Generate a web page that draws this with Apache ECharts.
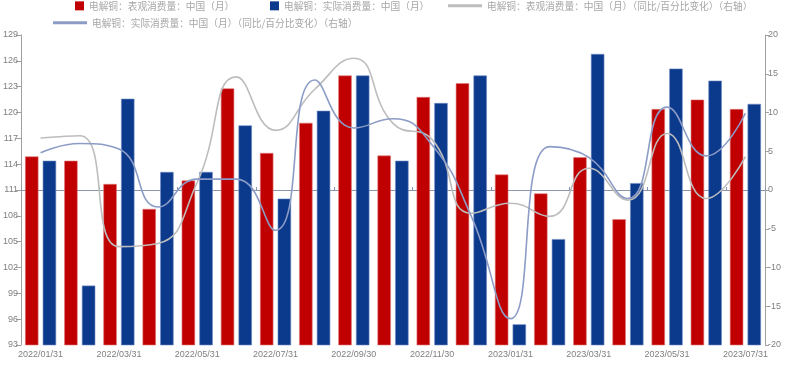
<!DOCTYPE html>
<html>
<head>
<meta charset="utf-8">
<script src="https://cdn.jsdelivr.net/npm/echarts@6/dist/echarts.min.js"></script>
<style>
  html, body { margin: 0; padding: 0; background: #fff; }
  #CopperUse { width: 796px; height: 365px; }
</style>
</head>
<body>
<div id="CopperUse"></div>
<script>
// 电解铜 月度消费量
const months = ['2022/01/31', '2022/02/28', '2022/03/31', '2022/04/30', '2022/05/31', '2022/06/30', '2022/07/31',
  '2022/08/31', '2022/09/30', '2022/10/31', '2022/11/30', '2022/12/31', '2023/01/31', '2023/02/28',
  '2023/03/31', '2023/04/30', '2023/05/31', '2023/06/30', '2023/07/31'];
const apparentUse = [114.9, 114.4, 111.7, 108.8, 112.1, 122.8, 115.3, 118.8, 124.3, 115.0, 121.8, 123.4, 112.8, 110.6, 114.8, 107.6, 120.4, 121.5, 120.4];
const actualUse = [114.4, 99.9, 121.6, 113.1, 113.1, 118.5, 110.0, 120.2, 124.3, 114.4, 121.1, 124.3, 95.4, 105.3, 126.8, 111.8, 125.1, 123.7, 121.0];
const apparentYoy = [6.7, 7.0, -7.3, -6.9, 1.0, 14.6, 7.7, 13.0, 17.0, 8.6, 6.5, -3.0, -1.7, -3.4, 2.8, -1.3, 7.3, -1.1, 4.3];
const actualYoy = [4.8, 6.0, 5.3, -2.2, 1.4, 1.4, -5.2, 14.2, 8.0, 9.2, 5.8, -3.4, -16.6, 5.6, 4.2, -1.1, 10.7, 4.4, 9.9];

const names = [
  '电解铜：表观消费量：中国（月）',
  '电解铜：实际消费量：中国（月）',
  '电解铜：表观消费量：中国（月）（同比/百分比变化）（右轴）',
  '电解铜：实际消费量：中国（月）（同比/百分比变化）（右轴）'
];

const RED = '#c00000';
const BLUE = '#0b3a8c';
const GREY = '#bdbdbd';
const SLATE = '#8c9cc6';

const legendText = { color: '#a6a6a6', fontSize: 9.7, fontFamily: 'Noto Sans CJK SC' };
function legendOf(name, left, top, w, h) {
  return {
    data: [{ name: name, icon: 'rect' }], left: left, top: top, itemWidth: w, itemHeight: h, itemGap: 0,
    itemStyle: { borderWidth: 0 }, textStyle: legendText, selectedMode: false
  };
}

const myChart = echarts.init(document.getElementById('CopperUse'));
const axisLabel = { color: '#808080', fontSize: 9, fontFamily: 'Liberation Sans' };

let option = {
  animation: false,
  backgroundColor: '#fff',
  legend: [
    legendOf(names[0], 70, -4, 9, 9),
    legendOf(names[1], 265, -4, 9, 9),
    legendOf(names[2], 443, -4, 34, 3),
    legendOf(names[3], 48, 13, 34, 3)
  ],
  grid: { left: 20, right: 31, top: 35, bottom: 20 },
  xAxis: [
    {
      type: 'category', data: months, position: 'bottom',
      axisLine: { show: false }, axisTick: { show: false },
      axisLabel: Object.assign({ interval: 1, margin: 5 }, axisLabel)
    },
    {
      type: 'category', data: months,
      axisLine: { onZero: true, onZeroAxisIndex: 1, lineStyle: { color: '#8a94aa', width: 1 } },
      axisTick: { show: true, interval: 1, length: 3, inside: false, lineStyle: { color: '#8a94aa' } },
      axisLabel: { show: false }
    }
  ],
  yAxis: [
    {
      type: 'value', min: 93, max: 129, interval: 3,
      splitLine: { show: false },
      axisLine: { show: true, lineStyle: { color: '#a0a0a0' } },
      axisTick: { show: true, length: 5, lineStyle: { color: '#a0a0a0' } },
      axisLabel: Object.assign({ margin: 3 }, axisLabel)
    },
    {
      type: 'value', min: -20, max: 20, interval: 5, position: 'right',
      splitLine: { show: false },
      axisLine: { show: true, lineStyle: { color: '#a0a0a0' } },
      axisTick: { show: true, length: 4, lineStyle: { color: '#a0a0a0' } },
      axisLabel: Object.assign({ margin: 3 }, axisLabel)
    }
  ],
  series: [
    {
      name: names[0], type: 'bar', data: apparentUse, barWidth: 13.4, barGap: '32%',
      itemStyle: { color: RED, borderColor: '#e07a7a', borderWidth: 0.6 }
    },
    {
      name: names[1], type: 'bar', data: actualUse, barWidth: 13.4, barGap: '32%',
      itemStyle: { color: BLUE, borderColor: '#6f8cc4', borderWidth: 0.6 }
    },
    {
      name: names[2], type: 'line', yAxisIndex: 1, data: apparentYoy, smooth: true,
      symbol: 'none', lineStyle: { color: GREY, width: 1.6 }, itemStyle: { color: GREY }, z: 5
    },
    {
      name: names[3], type: 'line', yAxisIndex: 1, data: actualYoy, smooth: true,
      symbol: 'none', lineStyle: { color: SLATE, width: 1.6 }, itemStyle: { color: SLATE }, z: 6
    }
  ]
};
myChart.setOption(option);
</script>
</body>
</html>
